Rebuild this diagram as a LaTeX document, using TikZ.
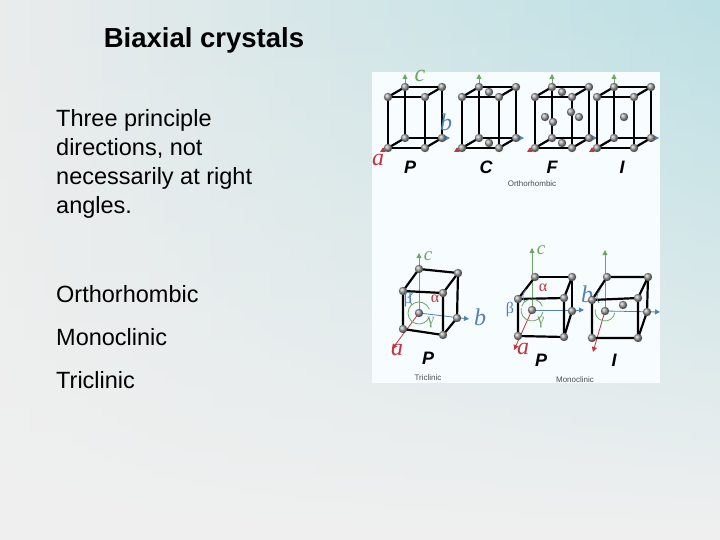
\documentclass[tikz,border=0pt]{standalone}
\usepackage{fontspec}
\setmainfont{Liberation Sans}
\newfontfamily\serf{Liberation Serif}
\usetikzlibrary{arrows.meta,fadings}
\definecolor{cc}{RGB}{110,165,100}
\definecolor{bb}{RGB}{80,130,180}
\definecolor{aa}{RGB}{200,50,60}
\definecolor{bgl}{RGB}{234,236,236}
\definecolor{bgr}{RGB}{188,224,228}
\tikzset{atom/.style={ball color=gray!80,draw=none},
 edge/.style={line width=2.2pt,black},
 ax/.style={-{Triangle[length=5pt,width=5pt]},line width=0.8pt},
 lbl/.style={font=\serf\itshape\fontsize{24}{24}\selectfont,inner sep=0},
 big/.style={font=\bfseries\itshape\fontsize{18}{18}\selectfont,inner sep=0},
 gr/.style={inner sep=0,font=\serf\fontsize{16}{16}\selectfont},
 sm/.style={font=\fontsize{8}{8}\selectfont,text=black!70,inner sep=0}}
\newcommand\atm[1]{\shade[atom] #1 circle (4.2);}
\newcommand\cellbox[6]{%
 \draw[edge] (#1+#5,#2+#6) -- (#1+#5,#2-#4+#6) -- (#1+#3+#5,#2-#4+#6) -- (#1+#3+#5,#2+#6) -- cycle;
 \draw[edge] (#1,#2) -- (#1,#2-#4) -- (#1+#3,#2-#4) -- (#1+#3,#2) -- cycle;
 \draw[edge] (#1,#2)--(#1+#5,#2+#6) (#1,#2-#4)--(#1+#5,#2-#4+#6) (#1+#3,#2-#4)--(#1+#3+#5,#2-#4+#6) (#1+#3,#2)--(#1+#3+#5,#2+#6);
 \foreach \u/\v in {#1/#2,#1/#2-#4,#1+#3/#2-#4,#1+#3/#2,#1+#5/#2+#6,#1+#5/#2-#4+#6,#1+#3+#5/#2-#4+#6,#1+#3+#5/#2+#6}{\atm{(\u,\v)}}}
\newcommand\oaxes[1]{%
 \draw[ax,cc] (#1+17,138) -- (#1+17,74);
 \draw[ax,bb] (#1+17,138) -- (#1+62,138);
 \draw[ax,aa,dashed] (#1+17,138) -- (#1-8,152);}
\begin{document}
\begin{tikzpicture}[x=1pt,y=-1pt]
\useasboundingbox (0,0) rectangle (720,540);
\shade[left color=bgl,right color=bgr] (0,0) rectangle (720,540);
\fill[white!94!black,path fading=north] (0,0) rectangle (720,540);
\node[font=\bfseries\fontsize{27.5}{27.5}\selectfont] (title) at (204,40) {Biaxial crystals};
\node[anchor=north west,align=left,font=\fontsize{23.5}{29}\selectfont,inner sep=0] (txt) at (56,109) {Three principle\\directions, not\\necessarily at right\\angles.};
\node[anchor=west,font=\fontsize{23.5}{23.5}\selectfont,inner sep=0] (o) at (56,294) {Orthorhombic};
\node[anchor=west,font=\fontsize{23.5}{23.5}\selectfont,inner sep=0] (m) at (56,337) {Monoclinic};
\node[anchor=west,font=\fontsize{23.5}{23.5}\selectfont,inner sep=0] (t) at (56,380) {Triclinic};
\fill[white!97!cyan] (372,72) rectangle (660,383);
% orthorhombic
\foreach \x in {388,462,535,597}{\oaxes{\x}}
\cellbox{388}{148}{37}{51}{17}{-10}
\cellbox{462}{148}{37}{51}{17}{-10}
\atm{(489,143)}\atm{(489,92)}
\cellbox{535}{148}{37}{51}{17}{-10}
\atm{(562,143)}\atm{(562,92)}\atm{(545,117)}\atm{(579,117)}\atm{(553,122)}\atm{(571,112)}
\cellbox{597}{148}{37}{51}{17}{-10}
\atm{(624,117)}
\node[lbl,text=cc] (c1) at (420,76) {c};
\node[lbl,text=bb] (b1) at (446,122) {b};
\node[lbl,text=aa] (a1) at (378,160) {a};
\node[big] (P1) at (410,167) {P};
\node[big] (C1) at (486,167) {C};
\node[big] (F1) at (552,167) {F};
\node[big] (I1) at (622,167) {I};
\node[sm] (or) at (532,184) {Orthorhombic};
% triclinic
\draw[ax,cc] (419,313) -- (419,253);
\draw[ax,bb] (419,313) -- (469,319);
\draw[ax,aa] (419,313) -- (392,349);
\draw[edge] (419,269)--(458,273)--(457,318);
\draw[edge] (403,291)--(443,293)--(443,335)--(403,329)--cycle;
\draw[edge] (403,291)--(419,269) (443,293)--(458,273) (443,335)--(457,318);
\draw[cc,line width=0.8pt] (419,313) ++(20:11) arc (20:200:11);
\draw[bb,line width=0.8pt] (412,305) arc (140:230:9);
\draw[cc,line width=0.8pt] (419,313) ++(200:11) arc (200:340:11);
\foreach \p in {(403,291),(419,269),(458,273),(443,293),(457,318),(443,335),(419,313),(403,329)}{\atm{\p}}
\node[lbl,text=cc,font=\serf\itshape\fontsize{19}{19}\selectfont] (c2) at (428,256) {c};
\node[lbl,text=bb] (b2) at (480,317) {b};
\node[lbl,text=aa] (a2) at (397,350) {a};
\node[gr,text=aa] (al2) at (435,299) {α};
\node[gr,text=bb] (be2) at (408,300) {β};
\node[gr,text=cc] (ga2) at (431,323) {γ};
\node[big] (P2) at (428,358) {P};
\node[sm] (tr) at (428,378) {Triclinic};
% monoclinic P
\draw[ax,cc] (532,310) -- (532,248);
\draw[ax,bb] (532,310) -- (584,310);
\draw[ax,aa] (532,310) -- (514,350);
\draw[edge] (535,277)--(572,277)--(572,311);
\draw[edge] (518,299)--(564,298)--(564,337)--(518,336)--cycle;
\draw[edge] (518,299)--(535,277) (564,298)--(572,277) (564,337)--(572,311);
\draw[cc,line width=0.8pt] (532,310) ++(10:11) arc (10:190:11);
\draw[bb,line width=0.8pt] (525,302) arc (140:230:9);
\draw[cc,line width=0.8pt] (532,310) ++(200:11) arc (200:340:11);
\foreach \p in {(518,299),(535,277),(572,277),(564,298),(572,311),(564,337),(518,336),(532,310)}{\atm{\p}}
\node[lbl,text=cc,font=\serf\itshape\fontsize{19}{19}\selectfont] (c3) at (541,250) {c};
\node[lbl,text=bb] (b3) at (587,294) {b};
\node[lbl,text=aa] (a3) at (523,349) {a};
\node[gr,text=aa] (al3) at (543,288) {α};
\node[gr,text=bb] (be3) at (510,310) {β};
\node[gr,text=cc] (ga3) at (541,323) {γ};
\node[big] (P3) at (541,360) {P};
% monoclinic I
\draw[ax,cc] (605,311) -- (605,250);
\draw[ax,bb] (605,311) -- (660,312);
\draw[ax,aa] (605,311) -- (593,352);
\draw[edge] (607,277)--(648,277)--(647,312);
\draw[edge] (592,300)--(638,298)--(638,338)--(592,338)--cycle;
\draw[edge] (592,300)--(607,277) (638,298)--(648,277) (638,338)--(647,312);
\draw[cc,line width=0.8pt] (605,311) ++(10:10) arc (10:190:10);
\draw[bb,line width=0.8pt] (599,303) arc (140:230:9);
\foreach \p in {(592,300),(607,277),(648,277),(638,298),(647,312),(638,338),(592,338),(605,311),(623,305)}{\atm{\p}}
\node[big] (I3) at (614,360) {I};
\node[sm] (mo) at (575,380) {Monoclinic};
\end{tikzpicture}
\end{document}
